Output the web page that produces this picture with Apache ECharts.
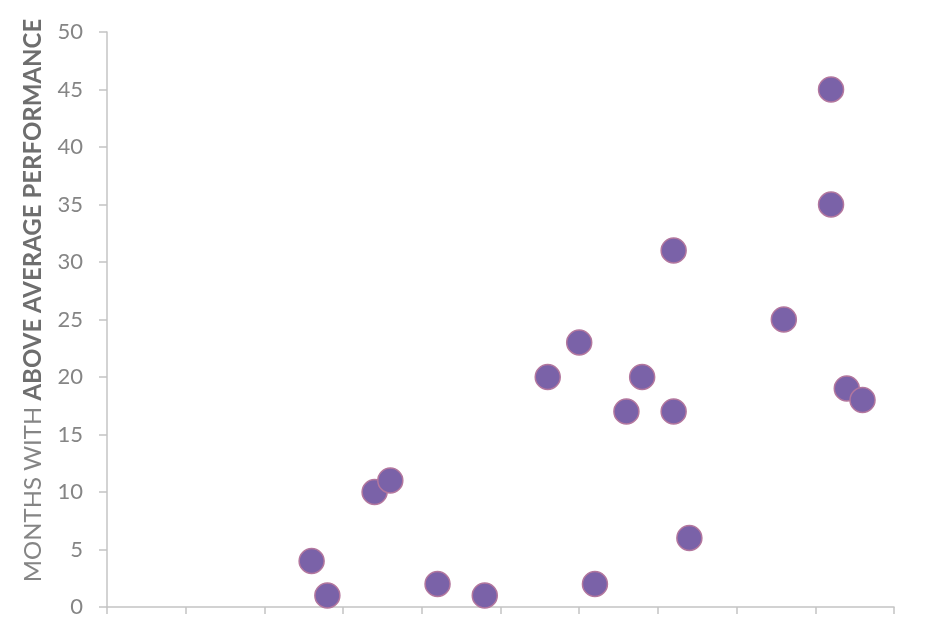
<!DOCTYPE html>
<html>
<head>
<meta charset="utf-8">
<script src="https://cdn.jsdelivr.net/npm/echarts@6/dist/echarts.min.js"></script>
<style>
html,body{margin:0;padding:0;background:#fff;}
#chart{width:930px;height:620px;}
</style>
</head>
<body>
<div id="chart"></div>
<script>
const xValues = [13, 14, 17, 18, 21, 24, 28, 30, 31, 33, 34, 36, 36, 37, 43, 46, 46, 47, 48];
const yValues = [4, 1, 10, 11, 2, 1, 20, 23, 2, 17, 20, 31, 17, 6, 25, 45, 35, 19, 18];
const yAxisNameRegular = 'MONTHS WITH ';
const yAxisNameBold = 'ABOVE AVERAGE PERFORMANCE';

const points = xValues.map((x, i) => [x, yValues[i]]);

const chart = echarts.init(document.getElementById('chart'), null, {renderer: 'canvas'});
chart.setOption({
  animation: false,
  backgroundColor: '#ffffff',
  grid: {left: 107, right: 36, top: 32, bottom: 13, containLabel: false, outerBoundsMode: 'none'},
  xAxis: {
    type: 'value', min: 0, max: 50, interval: 5,
    axisLine: {show: true, lineStyle: {color: '#c4c4c4', width: 1.5}},
    axisTick: {show: true, length: 7, lineStyle: {color: '#c4c4c4', width: 1.5}},
    axisLabel: {show: false},
    splitLine: {show: false}
  },
  yAxis: {
    type: 'value', min: 0, max: 50, interval: 5,
    axisLine: {show: true, lineStyle: {color: '#c4c4c4', width: 1.5}},
    axisTick: {show: true, length: 8, lineStyle: {color: '#c4c4c4', width: 1.5}},
    axisLabel: {color: '#858585', fontSize: 22, fontFamily: 'Lato', margin: 24},
    splitLine: {show: false},
    name: '{r|' + yAxisNameRegular + '}{b|' + yAxisNameBold + '}',
    nameLocation: 'middle',
    nameRotate: 90,
    nameGap: 62,
    nameTextStyle: {
      padding: [0, 0, 0, 38],
      rich: {
        r: {color: '#858585', fontSize: 24, fontFamily: 'Lato'},
        b: {color: '#6e6e6e', fontSize: 24, fontFamily: 'Lato', fontWeight: 'bold'}
      }
    }
  },
  series: [{
    type: 'scatter',
    data: points,
    symbolSize: 25,
    itemStyle: {color: '#7a62a8', borderColor: '#b3779e', borderWidth: 1.5, opacity: 1}
  }]
});
</script>
</body>
</html>
